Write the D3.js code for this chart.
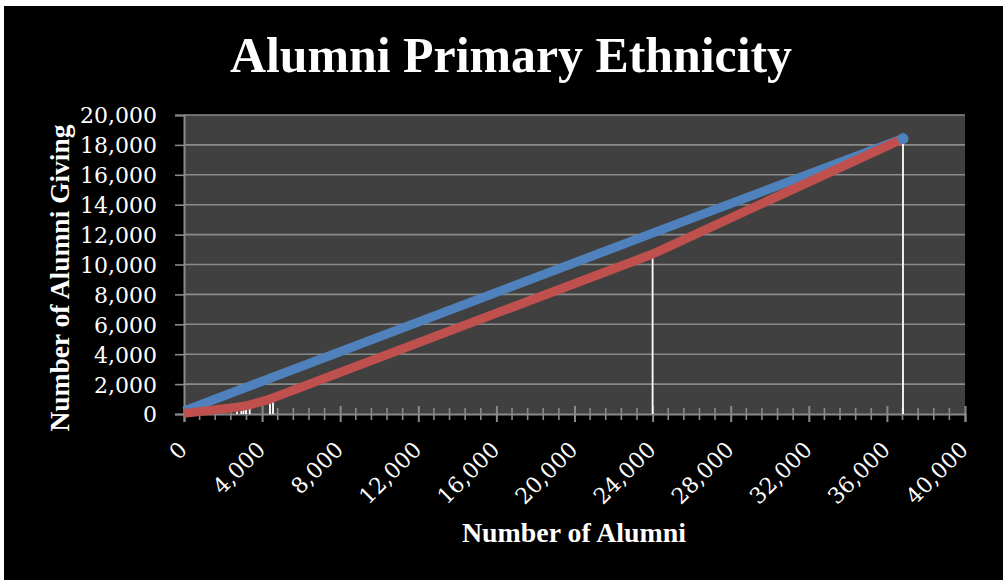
<!DOCTYPE html>
<html>
<head>
<meta charset="utf-8">
<script src="https://cdn.jsdelivr.net/npm/d3@7"></script>
<style>
  html, body { margin: 0; padding: 0; background: #fff; }
  svg { display: block; }
</style>
</head>
<body>
<svg id="chart" width="1003" height="580"></svg>
<script>
// Cumulative alumni (x) vs cumulative alumni giving (y)
const blueX = [0, 24000, 36825];
const blueY = [200, 12100, 18425];

const redX = [0, 2714, 2935, 3048, 3175, 3365, 4405, 4558, 24000, 36825];
const redY = [40, 450, 500, 530, 560, 610, 1000, 1080, 10700, 18425];

const xTicks = [0, 4000, 8000, 12000, 16000, 20000, 24000, 28000, 32000, 36000, 40000];
const yTicks = [0, 2000, 4000, 6000, 8000, 10000, 12000, 14000, 16000, 18000, 20000];

const titleText = "Alumni Primary Ethnicity";
const xTitle = "Number of Alumni";
const yTitle = "Number of Alumni Giving";

const svg = d3.select("#chart");
const W = 1003, H = 580;

// black panel inside a thin white frame (top and left)
svg.append("rect").attr("x", 0).attr("y", 0).attr("width", W).attr("height", H).attr("fill", "#fff");
svg.append("rect").attr("x", 4).attr("y", 6).attr("width", W - 4).attr("height", H - 6).attr("fill", "#000");

const plot = { left: 184, right: 965, top: 115, bottom: 414 };

const x = d3.scaleLinear().domain([0, 40000]).range([plot.left, plot.right]);
const y = d3.scaleLinear().domain([0, 20000]).range([plot.bottom, plot.top]);

const fmt = d3.format(",");
const gridColor = "#8a8a8a";

// plot area
svg.append("rect")
  .attr("x", plot.left).attr("y", plot.top)
  .attr("width", plot.right - plot.left).attr("height", plot.bottom - plot.top)
  .attr("fill", "#404040");

// horizontal gridlines
svg.append("g").selectAll("line").data(yTicks.slice(1)).join("line")
  .attr("x1", plot.left).attr("x2", plot.right)
  .attr("y1", d => y(d)).attr("y2", d => y(d))
  .attr("stroke", gridColor).attr("stroke-width", 1.6);

// y axis
const yAxis = svg.append("g")
  .attr("transform", `translate(${plot.left},0)`)
  .call(d3.axisLeft(y).tickValues(yTicks).tickFormat(fmt).tickSize(9).tickPadding(18));
yAxis.select(".domain").attr("stroke", gridColor).attr("stroke-width", 2);
yAxis.selectAll(".tick line").attr("stroke", gridColor).attr("stroke-width", 1.6);
yAxis.selectAll(".tick text")
  .attr("fill", "#fff")
  .attr("font-family", "'DejaVu Serif', serif")
  .attr("font-size", 22)
  .attr("dy", "0.36em");

// x axis: minor ticks every 800, major every 4000 crossing the line
const minorTicks = d3.range(0, 40001, 800).filter(v => v % 4000 !== 0);
svg.append("g").selectAll("line").data(minorTicks).join("line")
  .attr("x1", d => x(d)).attr("x2", d => x(d))
  .attr("y1", plot.bottom - 6).attr("y2", plot.bottom + 6)
  .attr("stroke", gridColor).attr("stroke-width", 1.6);

const xAxis = svg.append("g")
  .attr("transform", `translate(0,${plot.bottom})`)
  .call(d3.axisBottom(x).tickValues(xTicks).tickFormat(fmt).tickSize(8).tickPadding(0));
xAxis.select(".domain").attr("stroke", gridColor).attr("stroke-width", 2);
xAxis.selectAll(".tick line")
  .attr("y1", -8).attr("y2", 8)
  .attr("stroke", gridColor).attr("stroke-width", 2);
xAxis.selectAll(".tick text")
  .attr("fill", "#fff")
  .attr("font-family", "'DejaVu Serif', serif")
  .attr("font-size", 22)
  .attr("text-anchor", "end")
  .attr("y", 0).attr("dy", 0)
  .attr("transform", "translate(4,37) rotate(-45)");

// drop lines from the red series points to the x axis
svg.append("g").selectAll("line").data(redX.map((v, i) => [v, redY[i]]).slice(1)).join("line")
  .attr("x1", d => x(d[0])).attr("x2", d => x(d[0]))
  .attr("y1", plot.bottom).attr("y2", d => y(d[1]))
  .attr("stroke", "#fff").attr("stroke-width", 1.8);

const line = d3.line().x(d => x(d[0])).y(d => y(d[1]));

const redPts = redX.map((v, i) => [v, redY[i]]);
const bluePts = blueX.map((v, i) => [v, blueY[i]]);

svg.append("path").datum(bluePts)
  .attr("d", line).attr("fill", "none")
  .attr("stroke", "#4F81BD").attr("stroke-width", 9)
  .attr("stroke-linejoin", "round").attr("stroke-linecap", "butt");

svg.append("path").datum(redPts)
  .attr("d", line).attr("fill", "none")
  .attr("stroke", "#C0504D").attr("stroke-width", 9)
  .attr("stroke-linejoin", "round").attr("stroke-linecap", "butt");

// end marker
const last = bluePts[bluePts.length - 1];
svg.append("circle")
  .attr("cx", x(last[0])).attr("cy", y(last[1])).attr("r", 5.5)
  .attr("fill", "#4F81BD");

// titles
svg.append("text")
  .attr("x", 511).attr("y", 72)
  .attr("text-anchor", "middle")
  .attr("font-family", "'Liberation Serif', serif")
  .attr("font-weight", "bold").attr("font-size", 50)
  .attr("fill", "#fff")
  .attr("textLength", 562).attr("lengthAdjust", "spacingAndGlyphs")
  .text(titleText);

svg.append("text")
  .attr("x", 574).attr("y", 542)
  .attr("text-anchor", "middle")
  .attr("font-family", "'Liberation Serif', serif")
  .attr("font-weight", "bold").attr("font-size", 27)
  .attr("fill", "#fff")
  .attr("textLength", 224).attr("lengthAdjust", "spacingAndGlyphs")
  .text(xTitle);

svg.append("text")
  .attr("transform", "translate(69,278) rotate(-90)")
  .attr("text-anchor", "middle")
  .attr("font-family", "'Liberation Serif', serif")
  .attr("font-weight", "bold").attr("font-size", 28)
  .attr("fill", "#fff")
  .attr("textLength", 307).attr("lengthAdjust", "spacingAndGlyphs")
  .text(yTitle);
</script>
</body>
</html>
